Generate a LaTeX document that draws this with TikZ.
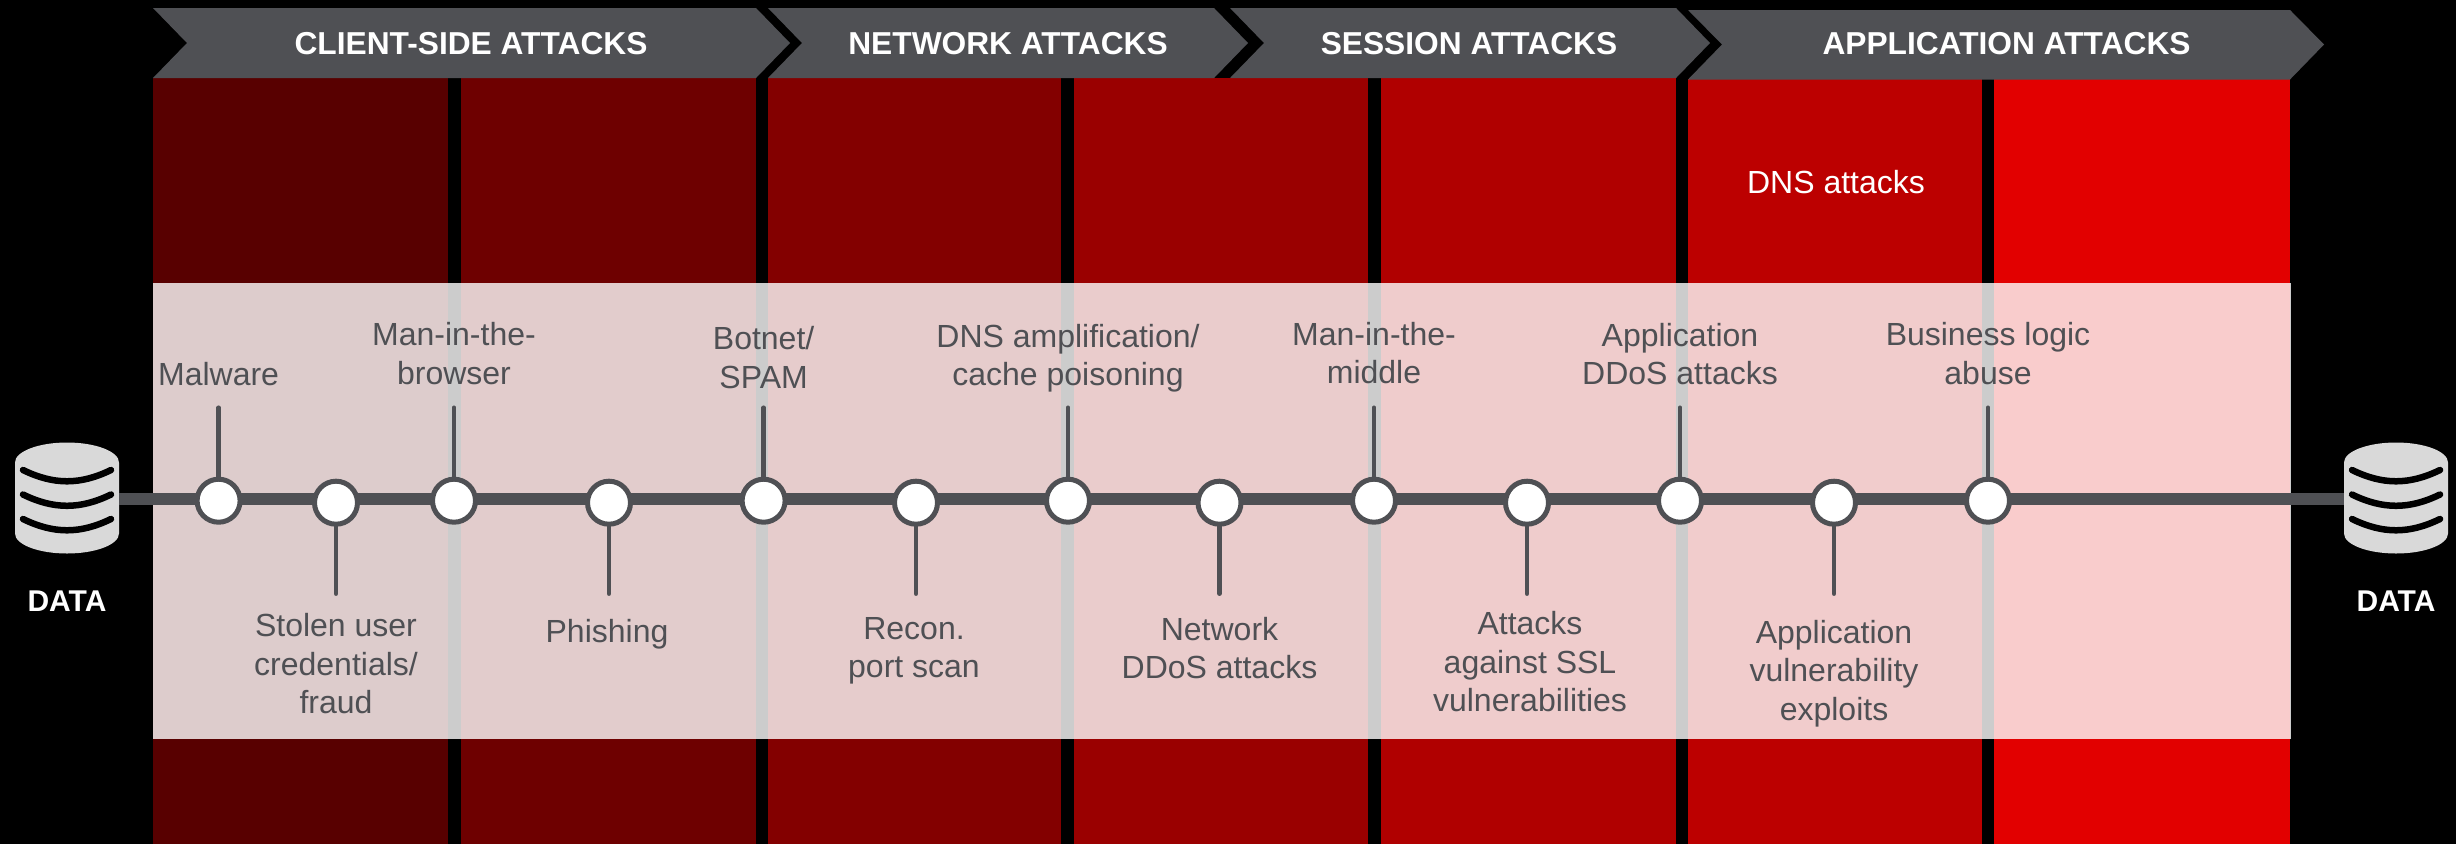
\documentclass[tikz,border=0pt]{standalone}
\usepackage{fontspec}
\setmainfont{Liberation Sans}
\definecolor{dgray}{HTML}{4F5054}
\definecolor{dbgray}{HTML}{D9D9D9}
\definecolor{col1}{HTML}{580000}
\definecolor{col2}{HTML}{6E0000}
\definecolor{col3}{HTML}{830000}
\definecolor{col4}{HTML}{9A0000}
\definecolor{col5}{HTML}{B00000}
\definecolor{col6}{HTML}{BC0000}
\definecolor{col7}{HTML}{E20000}
\tikzset{
	every node/.style={font=\fontsize{32}{38.3}\selectfont, align=center, inner sep=0pt}, % Texto base
	chevron/.style={fill=dgray}, % Flechas de la cabecera
	head/.style={text=white, font=\fontsize{31.7}{38}\selectfont\bfseries}, % Texto de la cabecera
	band/.style={fill=white, opacity=0.8}, % Banda clara central
	spine/.style={draw=dgray, line width=12pt}, % Linea principal
	stem/.style={draw=dgray, line width=4.5pt, line cap=round}, % Lineas hacia los textos
	hit/.style={circle, draw=dgray, fill=white, line width=5pt, minimum size=43pt}, % Puntos de ataque
	hitlow/.style={hit, yshift=-2pt}, % Puntos con texto abajo
	lbl/.style={text=dgray}, % Textos de ataques
	dbnode/.style={minimum width=104pt, minimum height=111pt}, % Base de datos
	dbline/.style={draw=black, line width=6.5pt, line cap=round, bend right=26}, % Lineas de la base de datos
	dblabel/.style={text=white, font=\fontsize{30}{36}\selectfont\bfseries} % Texto DATA
}
\newcommand{\dbicon}[1]{
	\fill[dbgray] ([shift={(-52,-36.5)}]#1.center)
		.. controls ([shift={(-52,-47.5)}]#1.center) and ([shift={(-28.7,-56.5)}]#1.center) .. ([shift={(0,-56.5)}]#1.center)
		.. controls ([shift={(28.7,-56.5)}]#1.center) and ([shift={(52,-47.5)}]#1.center) .. ([shift={(52,-36.5)}]#1.center)
		-- ([shift={(52,34.5)}]#1.center)
		.. controls ([shift={(52,45.5)}]#1.center) and ([shift={(28.7,54.5)}]#1.center) .. ([shift={(0,54.5)}]#1.center)
		.. controls ([shift={(-28.7,54.5)}]#1.center) and ([shift={(-52,45.5)}]#1.center) .. ([shift={(-52,34.5)}]#1.center)
		-- cycle;
	\draw[dbline] ([shift={(-44,-29)}]#1.center) to ([shift={(44,-29)}]#1.center);
	\draw[dbline] ([shift={(-44,-4.5)}]#1.center) to ([shift={(44,-4.5)}]#1.center);
	\draw[dbline] ([shift={(-44,20)}]#1.center) to ([shift={(44,20)}]#1.center);
}

\begin{document}
\begin{tikzpicture}[x=1pt, y=-1pt]
	\useasboundingbox (0,0) rectangle (2456,844);
	\fill[black] (0,0) rectangle (2456,844);
	% Columnas
	\fill[col1] (153,78) rectangle (447.5,844);
	\fill[col2] (461,78) rectangle (756,844);
	\fill[col3] (768,78) rectangle (1061,844);
	\fill[col4] (1074,78) rectangle (1368,844);
	\fill[col5] (1381,78) rectangle (1676,844);
	\fill[col6] (1688,79) rectangle (1982,844);
	\fill[col7] (1994,79) rectangle (2290,844);
	\fill[band] (153,283) rectangle (2291,739);
	% Cabecera
	\fill[chevron] (153,8) -- (756,8) -- (790,43) -- (756,78) -- (153,78) -- (187,43) -- cycle;
	\fill[chevron] (768,8) -- (1214,8) -- (1248,43) -- (1214,78) -- (768,78) -- (802,43) -- cycle;
	\fill[chevron] (1230,8) -- (1676,8) -- (1710,43) -- (1676,78) -- (1230,78) -- (1264,43) -- cycle;
	\fill[chevron] (1688,10) -- (2290,10) -- (2324,44.5) -- (2290,79.5) -- (1688,79.5) -- (1722,44.5) -- cycle;
	\node[head] (h1) at (471,43.5) {CLIENT-SIDE ATTACKS};
	\node[head] (h2) at (1008,43.5) {NETWORK ATTACKS};
	\node[head] (h3) at (1469,43.5) {SESSION ATTACKS};
	\node[head] (h4) at (2006.5,44) {APPLICATION ATTACKS};
	\node[text=white] (dns) at (1836,182) {DNS attacks};
	% Bases de datos
	\node[dbnode] (db1) at (67,499) {};
	\node[dbnode] (db2) at (2396,499) {};
	\dbicon{db1}
	\dbicon{db2}
	\node[dblabel, below of=db1, node distance=102.5pt] (d1) {DATA};
	\node[dblabel, below of=db2, node distance=102.5pt] (d2) {DATA};
	\draw[spine] (db1) -- (db2);
	% Puntos
	\node[hit] (m1) at (218.6,500.7) {};
	\node[hit, right of=m1, node distance=235.4pt] (m3) {};
	\node[hit, right of=m3, node distance=309.6pt] (m5) {};
	\node[hit, right of=m5, node distance=304.4pt] (m7) {};
	\node[hit, right of=m7, node distance=306pt] (m9) {};
	\node[hit, right of=m9, node distance=306pt] (m11) {};
	\node[hit, right of=m11, node distance=308pt] (m13) {};
	\node[hitlow, right of=m1, node distance=117.4pt] (m2) {};
	\node[hitlow, right of=m3, node distance=155pt] (m4) {};
	\node[hitlow, right of=m5, node distance=152.4pt] (m6) {};
	\node[hitlow, right of=m7, node distance=151.5pt] (m8) {};
	\node[hitlow, right of=m9, node distance=153pt] (m10) {};
	\node[hitlow, right of=m11, node distance=154pt] (m12) {};
	% Extremos de las lineas
	\coordinate[above of=m1, node distance=93pt] (s1);
	\coordinate[below of=m2, node distance=91pt] (s2);
	\coordinate[above of=m3, node distance=93pt] (s3);
	\coordinate[below of=m4, node distance=91pt] (s4);
	\coordinate[above of=m5, node distance=93pt] (s5);
	\coordinate[below of=m6, node distance=91pt] (s6);
	\coordinate[above of=m7, node distance=93pt] (s7);
	\coordinate[below of=m8, node distance=91pt] (s8);
	\coordinate[above of=m9, node distance=93pt] (s9);
	\coordinate[below of=m10, node distance=91pt] (s10);
	\coordinate[above of=m11, node distance=93pt] (s11);
	\coordinate[below of=m12, node distance=91pt] (s12);
	\coordinate[above of=m13, node distance=93pt] (s13);
	\draw[stem] (m1) -- (s1);
	\draw[stem] (m2) -- (s2);
	\draw[stem] (m3) -- (s3);
	\draw[stem] (m4) -- (s4);
	\draw[stem] (m5) -- (s5);
	\draw[stem] (m6) -- (s6);
	\draw[stem] (m7) -- (s7);
	\draw[stem] (m8) -- (s8);
	\draw[stem] (m9) -- (s9);
	\draw[stem] (m10) -- (s10);
	\draw[stem] (m11) -- (s11);
	\draw[stem] (m12) -- (s12);
	\draw[stem] (m13) -- (s13);
	% Textos
	\node[lbl, above of=m1, node distance=127pt] (l1) {Malware};
	\node[lbl, below of=m2, node distance=161pt] (l2) {Stolen user\\credentials/\\fraud};
	\node[lbl, above of=m3, node distance=147pt] (l3) {Man-in-the-\\browser};
	\node[lbl, below of=m4, node distance=132pt, xshift=-2pt] (l4) {Phishing};
	\node[lbl, above of=m5, node distance=143pt] (l5) {Botnet/\\SPAM};
	\node[lbl, below of=m6, node distance=148pt, xshift=-2pt] (l6) {Recon.\\port scan};
	\node[lbl, above of=m7, node distance=142.5pt] (l7) {DNS amplification/\\cache poisoning};
	\node[lbl, below of=m8, node distance=145pt] (l8) {Network\\DDoS attacks};
	\node[lbl, above of=m9, node distance=147.5pt] (l9) {Man-in-the-\\middle};
	\node[lbl, below of=m10, node distance=159pt, xshift=3pt] (l10) {Attacks\\against SSL\\vulnerabilities};
	\node[lbl, above of=m11, node distance=146.5pt] (l11) {Application\\DDoS attacks};
	\node[lbl, below of=m12, node distance=171pt] (l12) {Application\\vulnerability\\exploits};
	\node[lbl, above of=m13, node distance=147pt] (l13) {Business logic\\abuse};
\end{tikzpicture}
\end{document}
